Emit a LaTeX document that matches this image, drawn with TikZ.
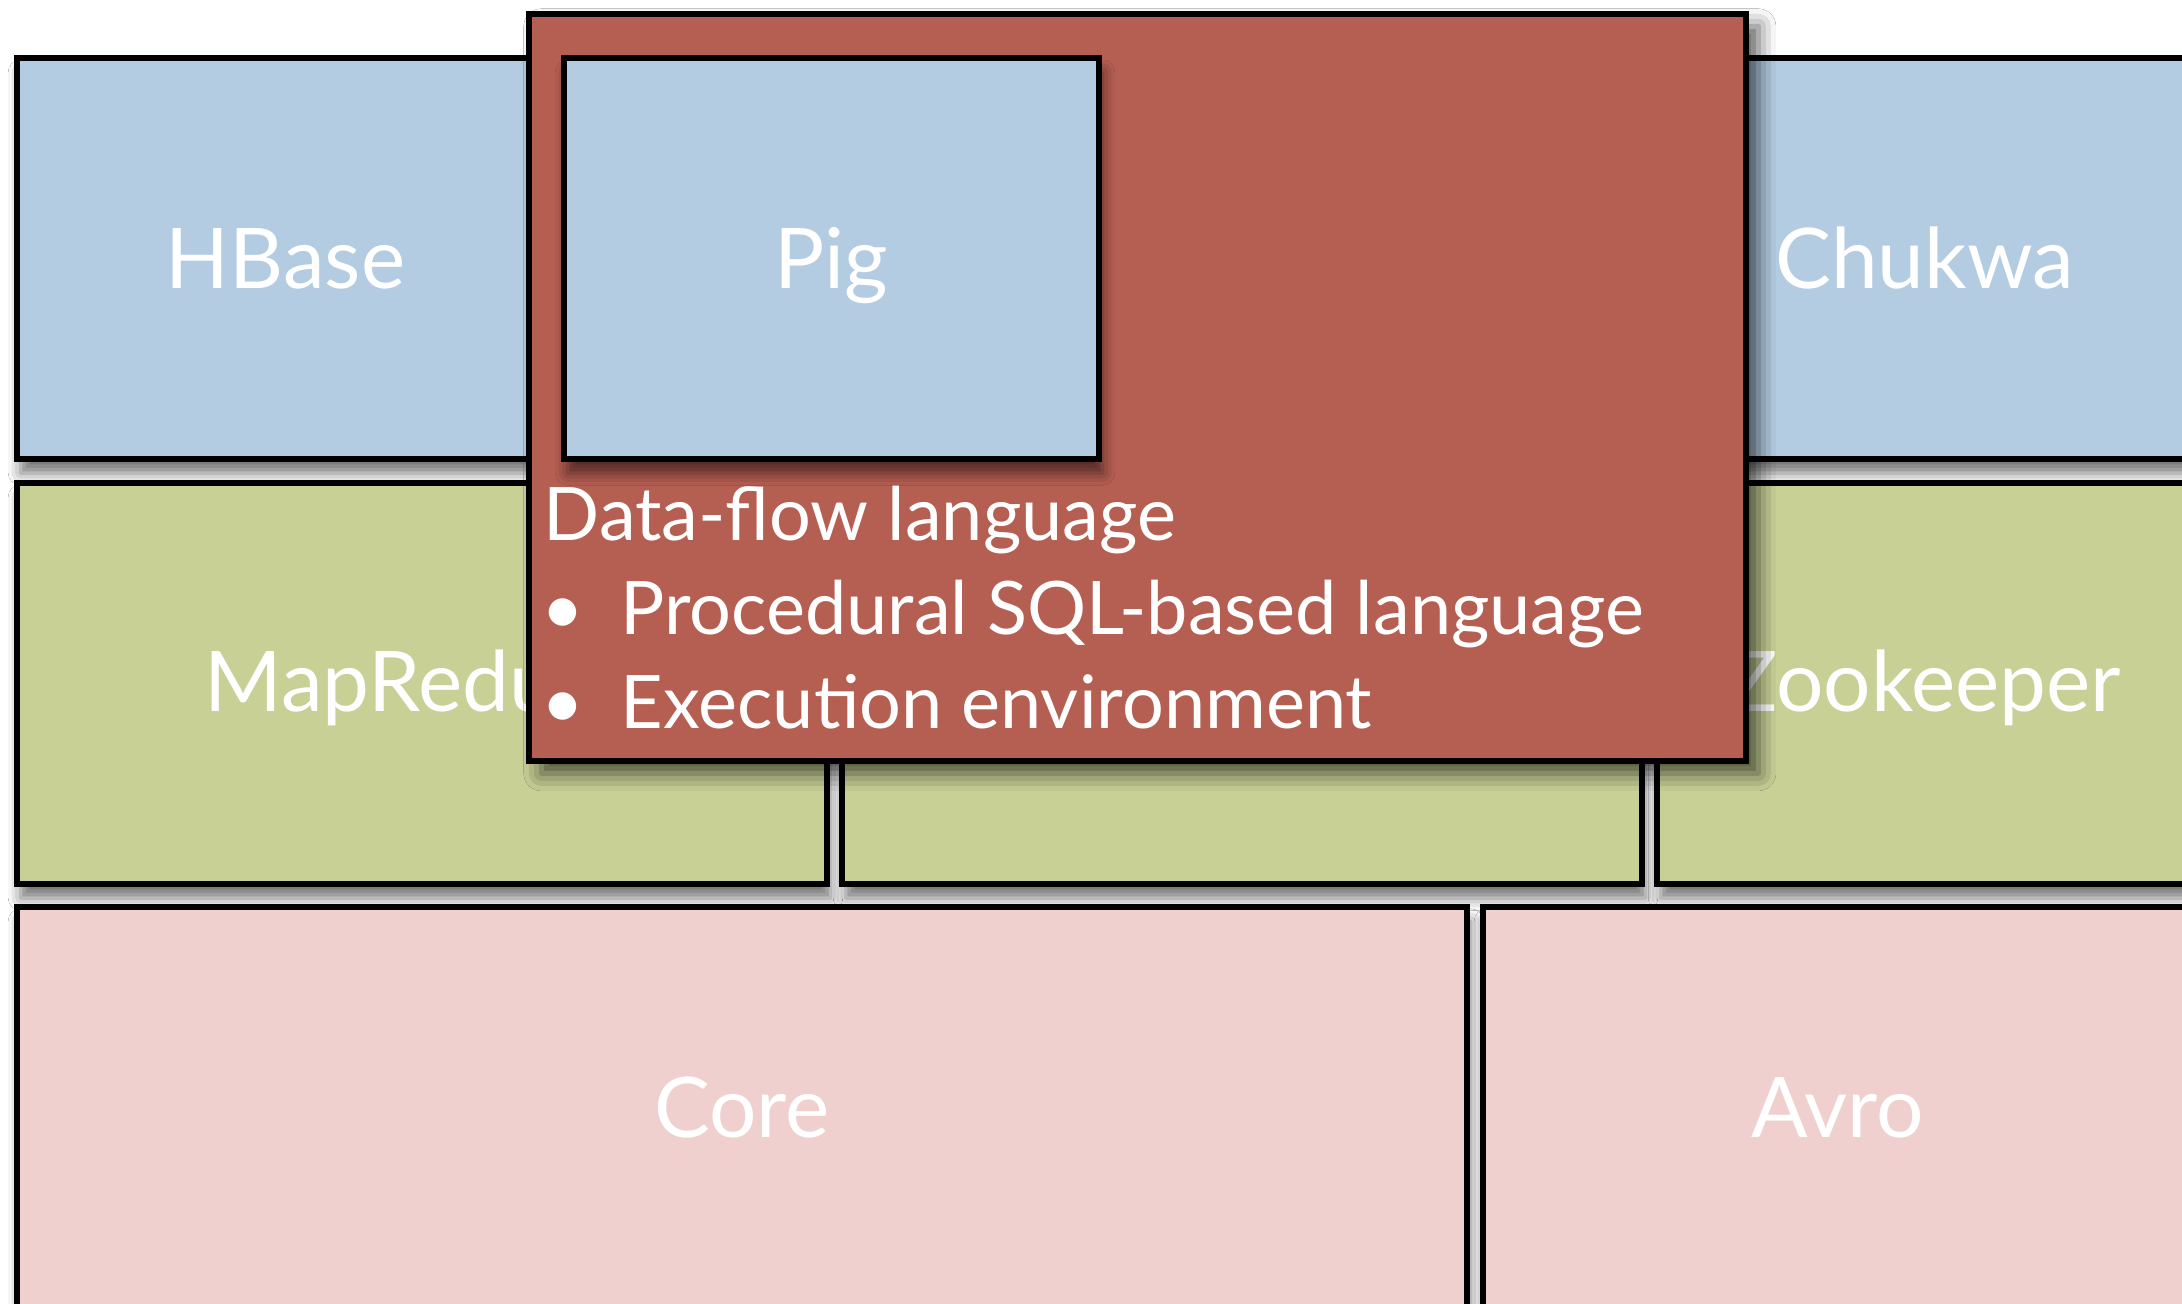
\documentclass[tikz,border=0pt]{standalone}
\usepackage{fontspec}
\setmainfont{Lato}
\usetikzlibrary{fit,shadows.blur}
\definecolor{cblue}{RGB}{179,204,226}
\definecolor{cgreen}{RGB}{200,208,150}
\definecolor{cpink}{RGB}{239,208,207}
\definecolor{cred}{RGB}{181,94,82}
\begin{document}
\begin{tikzpicture}[x=0.01cm,y=-0.01cm,
  box/.style={draw=black, line width=1.6pt, inner sep=0pt,
    blur shadow={shadow xshift=1pt, shadow yshift=-4pt, shadow blur radius=3.5pt, shadow opacity=55}},
  panel/.style={draw=black, line width=1.6pt, inner sep=0pt, fill=cred,
    blur shadow={shadow xshift=3.5pt, shadow yshift=-3.5pt, shadow blur radius=5pt, shadow opacity=65}},
  lbl/.style={text=white, inner sep=0pt, anchor=base, font=\fontsize{23.8}{28}\selectfont},
  desc/.style={text=white, inner sep=0pt, anchor=base west, font=\fontsize{21}{25}\selectfont}]
\useasboundingbox (0,0) rectangle (2182,1304);
\clip (0,0) rectangle (2182,1304);
\fill[white] (0,0) rectangle (2182,1304);
% top row
\node[box, fill=cblue, fit={(17,58) (554,459)}] (hbase) {};
\node[lbl] (hbaselbl) at (hbase.center |- 0,289) {HBase};
\node[box, fill=cblue, fit={(1657,58) (2192,459)}] (chukwa) {};
\node[lbl] (chukwalbl) at (chukwa.center |- 0,289) {Chukwa};
% middle row
\node[box, fill=cgreen, fit={(17,483) (827,884)}] (mapreduce) {};
\node[lbl] (mapreducelbl) at (mapreduce.center |- 0,712) {MapReduce};
\node[box, fill=cgreen, fit={(842,483) (1642,884)}] (hdfs) {};
\node[box, fill=cgreen, fit={(1657,483) (2192,884)}] (zookeeper) {};
\node[lbl] (zookeeperlbl) at (zookeeper.center |- 0,712) {Zookeeper};
% bottom row
\node[box, fill=cpink, fit={(17,907) (1467,1311)}] (core) {};
\node[lbl] (corelbl) at (core.center |- 0,1137) {Core};
\node[box, fill=cpink, fit={(1483,907) (2192,1311)}] (avro) {};
\node[lbl] (avrolbl) at (avro.center |- 0,1137) {Avro};
% Pig panel
\node[panel, fit={(529,14) (1746,761)}] (panel) {};
\node[box, fill=cblue, fit={(564,58) (1099,459)}] (pig) {};
\node[lbl] (piglbl) at (pig.center |- 0,289) {Pig};
\node[desc] (t1) at (543,541) {Data-flow language};
\node[desc] (b1) at (541,635) {•};
\node[desc] (t2) at (620,635) {Procedural SQL-based language};
\node[desc] (b2) at (541,729) {•};
\node[desc] (t3) at (620,729) {Execution environment};
\end{tikzpicture}
\end{document}
